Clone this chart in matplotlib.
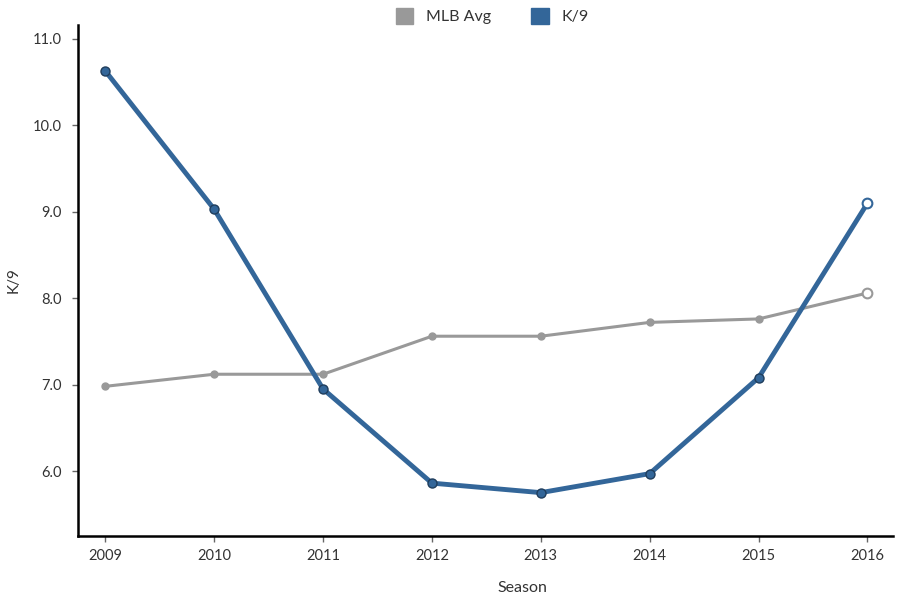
import matplotlib.pyplot as plt
from matplotlib.patches import Patch

plt.rcParams['font.family'] = ['Lato', 'DejaVu Sans']

seasons = [2009, 2010, 2011, 2012, 2013, 2014, 2015, 2016]
k9 = [10.63, 9.03, 6.95, 5.86, 5.75, 5.97, 7.08, 9.10]
mlb_avg = [6.98, 7.12, 7.12, 7.56, 7.56, 7.72, 7.76, 8.06]
yticks = [6.0, 7.0, 8.0, 9.0, 10.0, 11.0]

blue = '#336699'
grey = '#999999'

fig = plt.figure(figsize=(9, 6.02), dpi=100)
ax = fig.add_axes([0.0867, 0.1096, 0.905, 0.849])

# MLB average line, last point hollow
ax.plot(seasons, mlb_avg, color=grey, lw=2.2, zorder=2)
ax.plot(seasons[:-1], mlb_avg[:-1], 'o', color=grey, ms=5, zorder=3)
ax.plot(seasons[-1:], mlb_avg[-1:], 'o', mfc='white', mec=grey, mew=1.5, ms=7, zorder=3)

# K/9 line
ax.plot(seasons, k9, color=blue, lw=3.5, zorder=4)
ax.plot(seasons[:-1], k9[:-1], 'o', mfc=blue, mec='#1f3d5c', mew=1, ms=6.5, zorder=5)
ax.plot(seasons[-1:], k9[-1:], 'o', mfc='white', mec=blue, mew=1.5, ms=7, zorder=5)

ax.set_xlim(2008.75, 2016.23)
ax.set_ylim(5.248, 11.162)
ax.set_xticks(seasons)
ax.set_xticklabels([str(s) for s in seasons])
ax.set_yticks(yticks)
ax.set_yticklabels(['%.1f' % v for v in yticks])

for s in ['top', 'right']:
    ax.spines[s].set_visible(False)
for s in ['left', 'bottom']:
    ax.spines[s].set_linewidth(1.8)
    ax.spines[s].set_color('black')
ax.tick_params(axis='both', length=4, width=1, color='#666666', labelsize=10.5, labelcolor='#333333')
ax.tick_params(axis='y', pad=8)
ax.tick_params(axis='x', pad=5)

ax.set_xlabel('Season', fontsize=11.5, color='#333333')
ax.xaxis.set_label_coords(0.545, -0.088)
ax.set_ylabel('K/9', fontsize=11, color='#333333')
ax.yaxis.set_label_coords(-0.07, 0.5)

handles = [Patch(color=grey, label='MLB Avg'), Patch(color=blue, label='K/9')]
fig.legend(handles=handles, loc='upper center', bbox_to_anchor=(0.547, 1.01), ncol=2,
           frameon=False, fontsize=11.5, handlelength=1.1, handleheight=1.1,
           columnspacing=2.5, labelcolor='#333333')

fig.savefig('out.png', dpi=100)
